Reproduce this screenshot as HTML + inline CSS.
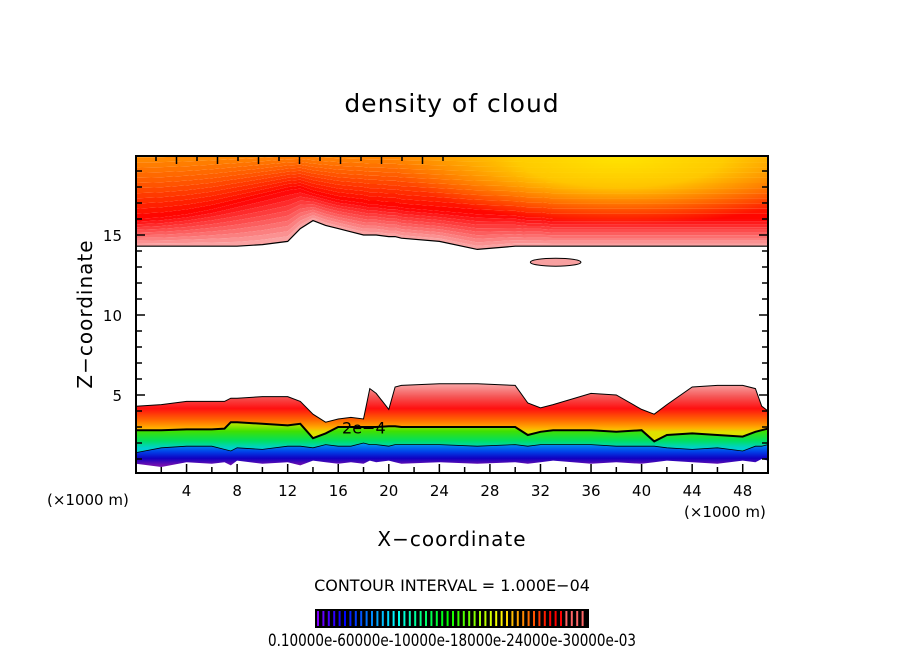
<!DOCTYPE html>
<html><head><meta charset="utf-8"><style>
html,body{margin:0;padding:0;background:#fff;}
svg text{font-family:"DejaVu Sans","Liberation Sans",sans-serif;fill:#000;}
</style></head><body>
<svg id="chart" width="904" height="654" viewBox="0 0 904 654" xmlns="http://www.w3.org/2000/svg">
<defs>
<radialGradient id="gYel" gradientUnits="userSpaceOnUse" cx="620" cy="156" r="230" gradientTransform="translate(620,156) scale(1,0.3) translate(-620,-156)">
<stop offset="0" stop-color="#ffe400" stop-opacity="1"/><stop offset="0.45" stop-color="#ffd800" stop-opacity="0.85"/><stop offset="1" stop-color="#ffc000" stop-opacity="0"/>
</radialGradient>
<linearGradient id="gRed" gradientUnits="userSpaceOnUse" x1="0" y1="385" x2="0" y2="432">
<stop offset="0" stop-color="#f8a0a0"/><stop offset="0.25" stop-color="#f55555"/><stop offset="0.5" stop-color="#ff1010"/><stop offset="0.75" stop-color="#ff6a00"/><stop offset="0.92" stop-color="#ffb000"/><stop offset="1" stop-color="#e0e000"/>
</linearGradient>
<linearGradient id="gGreen" gradientUnits="userSpaceOnUse" x1="0" y1="424" x2="0" y2="448">
<stop offset="0" stop-color="#b0e800"/><stop offset="0.3" stop-color="#40e000"/><stop offset="0.7" stop-color="#00e060"/><stop offset="1" stop-color="#00d0d0"/>
</linearGradient>
<linearGradient id="gBlue" gradientUnits="userSpaceOnUse" x1="0" y1="443" x2="0" y2="465">
<stop offset="0" stop-color="#00a0f0"/><stop offset="0.4" stop-color="#0040e8"/><stop offset="0.7" stop-color="#1000c0"/><stop offset="1" stop-color="#7010b0"/>
</linearGradient>
<clipPath id="clip"><rect x="136" y="156" width="632" height="317"/></clipPath>
</defs>
<text x="452" y="112" font-size="25" text-anchor="middle" letter-spacing="1">density of cloud</text>
<g id="plot" clip-path="url(#clip)"></g>
<rect x="136" y="156" width="632" height="317" fill="none" stroke="#000" stroke-width="2"/>
<g id="ticks"></g>
<text transform="translate(92,314) rotate(-90)" font-size="20" text-anchor="middle" letter-spacing="1">Z−coordinate</text>
<text x="452" y="546" font-size="20" text-anchor="middle" letter-spacing="1">X−coordinate</text>
<text x="47" y="505" font-size="15">(×1000 m)</text>
<text x="684" y="517" font-size="15">(×1000 m)</text>
<text x="452" y="591" font-size="16" text-anchor="middle">CONTOUR INTERVAL = 1.000E−04</text>
<rect x="315" y="609" width="274" height="19" fill="#000"/>
<g id="cbar"></g>
<text x="268" y="646" font-size="17" textLength="368" lengthAdjust="spacingAndGlyphs">0.10000e-60000e-10000e-18000e-24000e-30000e-03</text>
</svg>
<script>
// data
const xs      = [0,2,4,6,7,7.5,8,10,12,13,14,15,16,17,18,18.5,19,20,20.5,21,24,27,30,31,32,33,36,38,40,41,42,44,46,48,49,49.5,50];
const upperBase = [14.3,14.3,14.3,14.3,14.3,14.3,14.3,14.4,14.6,15.4,15.9,15.6,15.4,15.2,15.0,15.0,15.0,14.9,14.9,14.8,14.6,14.1,14.3,14.3,14.3,14.3,14.3,14.3,14.3,14.3,14.3,14.3,14.3,14.3,14.3,14.3,14.3];
const ridgeZ    = [16.0,16.1,16.3,16.6,16.8,16.9,17.0,17.4,17.8,17.9,17.6,17.4,17.2,17.1,17.0,16.9,16.9,16.8,16.8,16.7,16.5,16.3,16.2,16.1,16.1,16.0,16.0,16.0,16.0,16.0,16.0,16.0,16.0,16.0,16.0,16.0,16.0];
const cloudTop  = [4.3,4.4,4.6,4.6,4.6,4.8,4.8,4.9,4.9,4.6,3.8,3.3,3.5,3.6,3.5,5.4,5.1,4.1,5.5,5.6,5.7,5.7,5.6,4.5,4.2,4.4,5.1,5.0,4.1,3.8,4.4,5.5,5.6,5.6,5.4,4.3,4.0];
const contour2e4= [2.8,2.8,2.85,2.85,2.9,3.3,3.3,3.2,3.1,3.2,2.3,2.6,3.0,3.0,3.0,3.0,3.0,3.05,3.05,3.0,3.0,3.0,3.0,2.5,2.7,2.8,2.8,2.7,2.8,2.1,2.5,2.6,2.5,2.4,2.7,2.8,2.9];
const blueTop   = [1.4,1.7,1.8,1.8,1.6,1.5,1.7,1.6,1.8,1.8,1.7,1.9,1.8,1.8,2.0,1.9,1.9,1.8,1.9,1.9,1.9,1.8,1.9,1.8,1.9,1.9,1.9,1.8,1.8,1.8,1.7,1.6,1.7,1.5,1.8,1.8,1.9];
const cloudBot  = [0.7,0.5,0.8,0.7,0.8,0.6,0.9,0.7,0.8,0.6,0.9,0.8,0.7,0.8,0.7,0.9,0.8,0.9,0.8,0.7,0.8,0.7,0.8,0.7,0.8,0.9,0.7,0.8,0.7,0.8,0.9,0.8,0.7,0.9,0.8,1.0,0.9];
const blobX = [31.2,35.2]; const blobZ = [13.3,0.25];
const xTicks = [4,8,12,16,20,24,28,32,36,40,44,48];
const zTicks = [5,10,15];
const cbarLevels = [1,2,3,4,5,6,7,8,9,10,11,12,13,14,15,16,17,18,19,20,21,22,23,24,25,26,27,28,29,30,31,32,33,34,35,36,37,38,39,40,41,42,43,44,45,46,47,48,49,50];

const X=x=>136+x*12.64, Z=z=>475-z*16;
const NS='http://www.w3.org/2000/svg';
const plot=document.getElementById('plot');
function mk(tag,attrs,parent){const e=document.createElementNS(NS,tag);for(const k in attrs)e.setAttribute(k,attrs[k]);parent.appendChild(e);return e;}
function line(arr){return xs.map((x,i)=>X(x).toFixed(1)+','+Z(arr[i]).toFixed(1));}
function band(a,b){return line(a).concat(line(b).reverse()).join(' ');}
function mixC(c1,c2,t){return 'rgb('+c1.map((v,i)=>Math.round(v+(c2[i]-v)*t)).join(',')+')';}
const topZ=xs.map(()=>20.5);
let p;
const N1=10;
for(let k=0;k<N1;k++){
  const a=upperBase.map((b,i)=>b+(ridgeZ[i]-b)*k/N1), b=upperBase.map((v,i)=>v+(ridgeZ[i]-v)*(k+1)/N1);
  p=mk('polygon',{points:band(a,b),fill:mixC([250,170,170],[255,0,0],(k+0.5)/N1),stroke:'none'},plot);
  
  
}
const N2=14;
for(let k=0;k<N2;k++){
  const a=ridgeZ.map((r,i)=>r+(topZ[i]-r)*k/N2), b=ridgeZ.map((r,i)=>r+(topZ[i]-r)*(k+1)/N2);
  const t=(k+0.5)/N2;
  const col=t<0.5?mixC([255,0,0],[255,90,0],t/0.5):mixC([255,90,0],[255,160,0],(t-0.5)/0.5);
  p=mk('polygon',{points:band(a,b),fill:col,stroke:'none'},plot);
  
  
}
p=mk('rect',{x:136,y:150,width:640,height:80,fill:'url(#gYel)'},plot);


p=mk('polyline',{points:line(upperBase).join(' '),fill:'none',stroke:'#000','stroke-width':1.2},plot);


p=mk('ellipse',{cx:X((blobX[0]+blobX[1])/2),cy:Z(blobZ[0]),rx:(X(blobX[1])-X(blobX[0]))/2,ry:blobZ[1]*16,fill:'#f8a0a0',stroke:'#000','stroke-width':1},plot);


p=mk('polygon',{points:band(cloudTop,contour2e4),fill:'url(#gRed)'},plot);


p=mk('polygon',{points:band(contour2e4,blueTop),fill:'url(#gGreen)'},plot);


p=mk('polygon',{points:band(blueTop,cloudBot),fill:'url(#gBlue)'},plot);


p=mk('polyline',{points:line(cloudTop).join(' '),fill:'none',stroke:'#000','stroke-width':1},plot);


p=mk('polyline',{points:line(contour2e4).join(' '),fill:'none',stroke:'#000','stroke-width':2},plot);


p=mk('polyline',{points:line(blueTop).join(' '),fill:'none',stroke:'#000','stroke-width':0.8},plot);


const lbl=mk('text',{x:X(16.3),y:Z(2.6),'font-size':16},plot);
lbl.textContent='2e−4';



const tk=document.getElementById('ticks');
for(let x=2;x<50;x+=2){
  const big=x%4===0;
  const t=mk('line',{x1:X(x),x2:X(x),y1:473,y2:473-(big?9:6),stroke:'#000','stroke-width':1.5},tk);
  
  
}
for(let k=0;k<15;k++){
  const xx=156+k*20.5; if(xx>766)break;
  const t=mk('line',{x1:xx,x2:xx,y1:156,y2:156+(k%2?8:5),stroke:'#000','stroke-width':1.5},tk);
  
  
}
for(let z=1;z<20;z++){
  const big=z%5===0;
  let t=mk('line',{x1:136,x2:136+(big?9:6),y1:Z(z),y2:Z(z),stroke:'#000','stroke-width':1.5},tk);
  
  
  t=mk('line',{x1:768,x2:768-(big?9:6),y1:Z(z),y2:Z(z),stroke:'#000','stroke-width':1.5},tk);
  
  
}
xTicks.forEach(v=>{const t=mk('text',{x:X(v),y:496,'font-size':15,'text-anchor':'middle'},tk);t.textContent=v;
  
  });
zTicks.forEach(v=>{const t=mk('text',{x:122,y:Z(v)+6,'font-size':15,'text-anchor':'end'},tk);t.textContent=v;
  
  });

const cb=document.getElementById('cbar');
cbarLevels.forEach((v,i)=>{
  const f=i/(cbarLevels.length-1);
  const hue=Math.max(0,270-f/0.88*270);
  const light=f>0.92?70:50;
  const l=mk('line',{x1:318+i*5.4,x2:318+i*5.4,y1:611,y2:626,stroke:`hsl(${hue},100%,${light}%)`,'stroke-width':2},cb);
  
  
});
</script>
</body></html>
